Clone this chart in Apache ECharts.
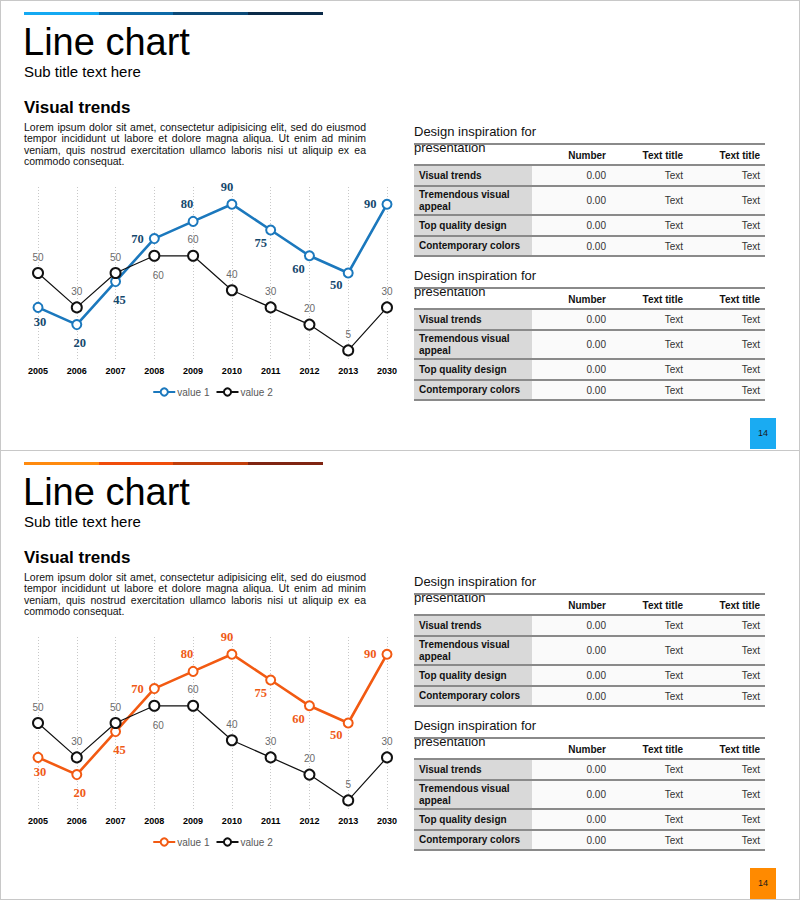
<!DOCTYPE html>
<html>
<head>
<meta charset="utf-8">
<script src="https://cdn.jsdelivr.net/npm/echarts@6/dist/echarts.min.js"></script>
<style>
  html, body { margin:0; padding:0; background:#fff; }
  body { width:800px; height:900px; position:relative; overflow:hidden; font-family:'Liberation Sans', Arial, sans-serif; color:#000; }
  .abs { position:absolute; }
</style>
</head>
<body>
<script>
// ---------- data ----------
const years = ['2005','2006','2007','2008','2009','2010','2011','2012','2013','2030'];
const value1 = [30, 20, 45, 70, 80, 90, 75, 60, 50, 90];
const value2 = [50, 30, 50, 60, 60, 40, 30, 20, 5, 30];
const seriesNames = ['value 1', 'value 2'];

const titleText = 'Line chart';
const subtitleText = 'Sub title text here';
const headingText = 'Visual trends';
const loremLines = [
  'Lorem ipsum dolor sit amet, consectetur adipisicing elit, sed do eiusmod',
  'tempor incididunt ut labore et dolore magna aliqua. Ut enim ad minim',
  'veniam, quis nostrud exercitation ullamco laboris nisi ut aliquip ex ea',
  'commodo consequat.'
];
const tableTitleLines = ['Design inspiration for', 'presentation'];
const colHeaders = ['Number', 'Text title', 'Text title'];
const rowLabels = ['Visual trends', 'Tremendous visual appeal', 'Top quality design', 'Contemporary colors'];
const numberCol = ['0.00', '0.00', '0.00', '0.00'];
const textCol1 = ['Text', 'Text', 'Text', 'Text'];
const textCol2 = ['Text', 'Text', 'Text', 'Text'];
const pageNumber = '14';

// ---------- styles / layout ----------
const themes = [
  { bar:['#14a9f2','#0d6aa8','#0c4a78','#0b2a48'], line:'#1b78bd', label:'#15486d', page:'#1aabf2' },
  { bar:['#ff8a0f','#f04d0a','#c13e0b','#7f2412'], line:'#f25a12', label:'#ef5a17', page:'#ff8a00' }
];
const v1LabelPos = [['bottom',[2,-2]],['bottom',[3,1]],['bottom',[4,1]],['left',[0,0]],['top',[-6,0]],
                    ['top',[-5,0]],['bottom',[-10,-4]],['bottom',[-11,-4]],['bottom',[-12,-5]],['left',[0,0]]];
const v2LabelPos = [['top',[0,0]],['top',[0,0]],['top',[0,0]],['bottom',[4,4]],['top',[0,0]],
                    ['top',[0,0]],['top',[0,0]],['top',[0,0]],['top',[0,0]],['top',[0,0]]];
const rowBounds = [0, 21, 42, 71, 92, 112]; // relative to table top line

function el(parent, css, text, tag) {
  const d = document.createElement(tag || 'div');
  d.className = 'abs';
  Object.assign(d.style, css);
  if (text !== undefined) d.textContent = text;
  parent.appendChild(d);
  return d;
}

function textLine(parent, x, baseline, size, weight, text, extra) {
  const top = baseline - 0.8465 * size;
  return el(parent, Object.assign({ left:x+'px', top:top+'px', fontSize:size+'px', lineHeight:size+'px',
    fontWeight:weight, whiteSpace:'nowrap' }, extra || {}), text);
}

function buildTable(slide, y0) {
  // title (two lines; second line sits on the table's top rule, as in the reference)
  tableTitleLines.forEach((ln, i) => {
    textLine(slide, 414, y0 - 7.5 + i * 15.5, 13, 'normal', ln, { color:'#111' });
  });
  // backgrounds
  for (let r = 0; r < rowLabels.length; r++) {
    const a = y0 + rowBounds[r+1], b = y0 + rowBounds[r+2];
    el(slide, { left:'414px', top:a+'px', width:'118px', height:(b-a)+'px', background:'#d9d9d9' });
    el(slide, { left:'532px', top:a+'px', width:'233px', height:(b-a)+'px', background:'#fafafa' });
  }
  // lines
  rowBounds.forEach((rb) => {
    el(slide, { left:'414px', top:(y0+rb-1)+'px', width:'351px', height:'2px', background:'#8a8a8a' });
  });
  const rights = [606, 683, 760];
  // header
  const hMid = y0 + (rowBounds[0] + rowBounds[1]) / 2 + 1;
  colHeaders.forEach((h, i) => {
    el(slide, { left:(rights[i]-90)+'px', width:'90px', top:(hMid-6)+'px', height:'12px', lineHeight:'12px',
      fontSize:'10px', fontWeight:'bold', textAlign:'right', color:'#111' }, h);
  });
  // rows
  for (let r = 0; r < rowLabels.length; r++) {
    const a = y0 + rowBounds[r+1], b = y0 + rowBounds[r+2];
    const cell = el(slide, { left:'419px', top:a+'px', width:'110px', height:(b-a)+'px', display:'flex',
      alignItems:'center', fontSize:'10px', lineHeight:'12px', fontWeight:'bold', color:'#111' });
    cell.textContent = rowLabels[r];
    const vals = [numberCol[r], textCol1[r], textCol2[r]];
    vals.forEach((v, i) => {
      el(slide, { left:(rights[i]-90)+'px', width:'90px', top:((a+b)/2-6+0.5)+'px', height:'12px', lineHeight:'12px',
        fontSize:'10px', textAlign:'right', color:'#333' }, v);
    });
  }
}

function buildSlide(index, top) {
  const th = themes[index];
  const slide = el(document.body, { left:'0px', top:top+'px', width:'800px', height:'450px' });
  // border
  el(slide, { left:'0px', top:'0px', width:'800px', height:(index === 0 ? 451 : 450)+'px', border:'1px solid #c8c8c8', boxSizing:'border-box' });
  // colour bar
  const segX = [24, 98.5, 173.3, 248.3, 323];
  for (let i = 0; i < 4; i++) {
    el(slide, { left:segX[i]+'px', top:'12px', width:(segX[i+1]-segX[i])+'px', height:'3px', background:th.bar[i] });
  }
  textLine(slide, 23, 55, 38, 'normal', titleText);
  textLine(slide, 24, 77, 15, 'normal', subtitleText);
  textLine(slide, 24, 113.5, 17, 'bold', headingText);
  loremLines.forEach((ln, i) => {
    const last = i === loremLines.length - 1;
    el(slide, { left:'24px', top:(121.6 + i*11.6)+'px', width:'342px', fontSize:'10.5px', lineHeight:'11.6px',
      textAlign:'justify', textAlignLast: last ? 'left' : 'justify', whiteSpace:'nowrap', color:'#111' }, ln);
  });
  buildTable(slide, 144);
  buildTable(slide, 288);
  // page number
  el(slide, { left:'750px', top:'418px', width:'26px', height:'31px', background:th.page, color:'#1a1a1a',
    fontSize:'9px', lineHeight:'31px', textAlign:'center' }, pageNumber);

  // chart
  const chartDiv = el(slide, { left:'25px', top:'170px', width:'375px', height:'240px' });
  const chart = echarts.init(chartDiv, null, { renderer:'svg' });
  const d1 = value1.map((v, i) => ({ value:v, label:{ position:v1LabelPos[i][0], offset:v1LabelPos[i][1] } }));
  const d2 = value2.map((v, i) => ({ value:v, label:{ position:v2LabelPos[i][0], offset:v2LabelPos[i][1] } }));
  chart.setOption({
    animation:false,
    grid:{ left:13, right:13, top:17, height:172 },
    legend:{ data:seriesNames, left:'center', top:212, itemWidth:22, itemHeight:9, itemGap:6,
      textStyle:{ fontSize:10, color:'#595959', fontFamily:'Liberation Sans', padding:[0,0,0,-3] } },
    xAxis:{ type:'category', data:years, boundaryGap:false,
      axisLine:{ show:false }, axisTick:{ show:false },
      axisLabel:{ margin:7, fontSize:9, fontWeight:'bold', color:'#000', fontFamily:'Liberation Sans' },
      splitLine:{ show:true, lineStyle:{ color:'#c8c8c8', type:[1,2], width:1 } } },
    yAxis:{ type:'value', min:0, max:100, show:false },
    series:[
      { name:seriesNames[0], type:'line', data:d1, symbol:'emptyCircle', symbolSize:9, z:2,
        lineStyle:{ color:th.line, width:2.6 }, itemStyle:{ color:th.line, borderWidth:2.4, borderColor:th.line },
        label:{ show:true, fontSize:12.5, fontWeight:'bold', color:th.label, fontFamily:'Liberation Serif' } },
      { name:seriesNames[1], type:'line', data:d2, symbol:'emptyCircle', symbolSize:10, z:3,
        lineStyle:{ color:'#111', width:1.2 }, itemStyle:{ color:'#111', borderWidth:2.4, borderColor:'#111' },
        label:{ show:true, fontSize:10, color:'#6b6b6b', fontFamily:'Liberation Sans' } }
    ]
  });
}

buildSlide(0, 0);
buildSlide(1, 450);
</script>
</body>
</html>
